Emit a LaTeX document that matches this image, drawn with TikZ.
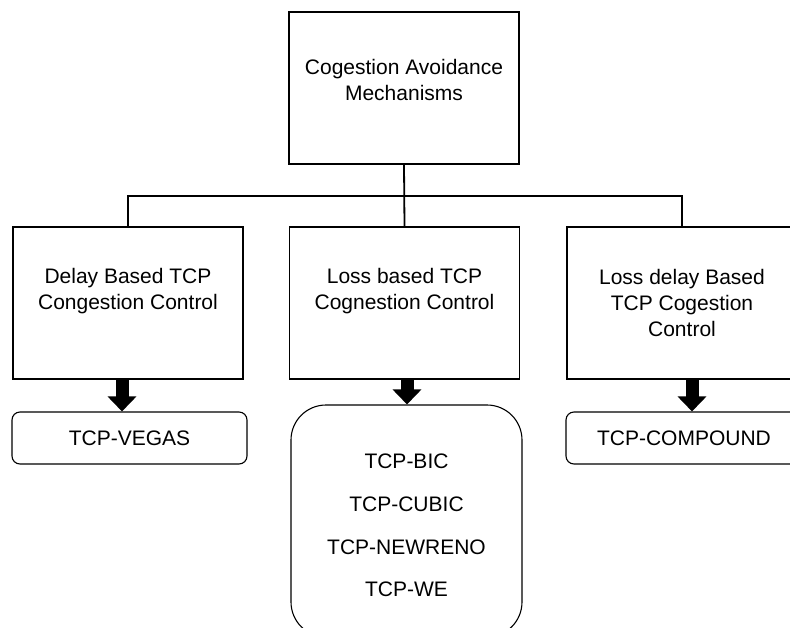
\documentclass[tikz,border=0pt]{standalone}
\usepackage{fontspec}
\setmainfont{Liberation Sans}
\usetikzlibrary{arrows.meta}
\begin{document}
\begin{tikzpicture}[x=1pt,y=-1pt,
  box/.style={draw, line width=1.3pt, rectangle, inner sep=0pt, minimum width=230pt, minimum height=152pt},
  rbox/.style={draw, line width=1.1pt, rounded corners=8pt, inner sep=0pt, font=\fontsize{21}{26}\selectfont},
  lbl/.style={font=\fontsize{21}{26}\selectfont, align=center, inner sep=0pt},
  conn/.style={line width=1.8pt},
  bigarrow/.style={line width=13pt, -{Triangle[length=15pt,width=28pt]}}
]
\useasboundingbox (0,0) rectangle (790,627);
\clip (0,0) rectangle (790,627);
\fill[white] (0,0) rectangle (790,627);

% level 0
\node[box] (top) at (404,88) {};
\node[lbl] (toptext) at (404,80) {Cogestion Avoidance\\Mechanisms};

% level 1
\node[box] (d1) at (128,303) {};
\node[lbl] (d1text) at (128,291.5) {Delay Based TCP\\Congestion Control};
\node[box] (d2) at (404.5,303) {};
\node[lbl] (d2text) at (404.5,291.5) {Loss based TCP\\Cognestion Control};
\node[box] (d3) at (682,303) {};
\node[lbl] (d3text) at (682,303) {Loss delay Based\\TCP Cogestion\\Control};

% level 2
\node[rbox, minimum width=235pt, minimum height=52pt] (v1) at (129.5,438) {TCP-VEGAS};
\node[rbox, rounded corners=35pt, minimum width=231pt, minimum height=232pt] (v2) at (406.5,521) {};
\node[lbl, font=\fontsize{21}{42.7}\selectfont] (v2text) at (406.5,525.5) {TCP-BIC\\TCP-CUBIC\\TCP-NEWRENO\\TCP-WE};
\node[rbox, minimum width=236pt, minimum height=52pt] (v3) at (684,438) {TCP-COMPOUND};

% connectors
\coordinate (bus) at (404,196);
\draw[conn] (top.south) -- (d2.north);
\draw[conn] (d1.north) |- (bus) -| (d3.north);

% arrows
\draw[bigarrow] ([xshift=-6pt]d1.south) -- ([xshift=-6pt]d1.south |- v1.north);
\draw[bigarrow] ([xshift=2.5pt]d2.south) -- ([xshift=2.5pt]d2.south |- v2.north);
\draw[bigarrow] ([xshift=10pt]d3.south) -- ([xshift=10pt]d3.south |- v3.north);
\end{tikzpicture}
\end{document}
